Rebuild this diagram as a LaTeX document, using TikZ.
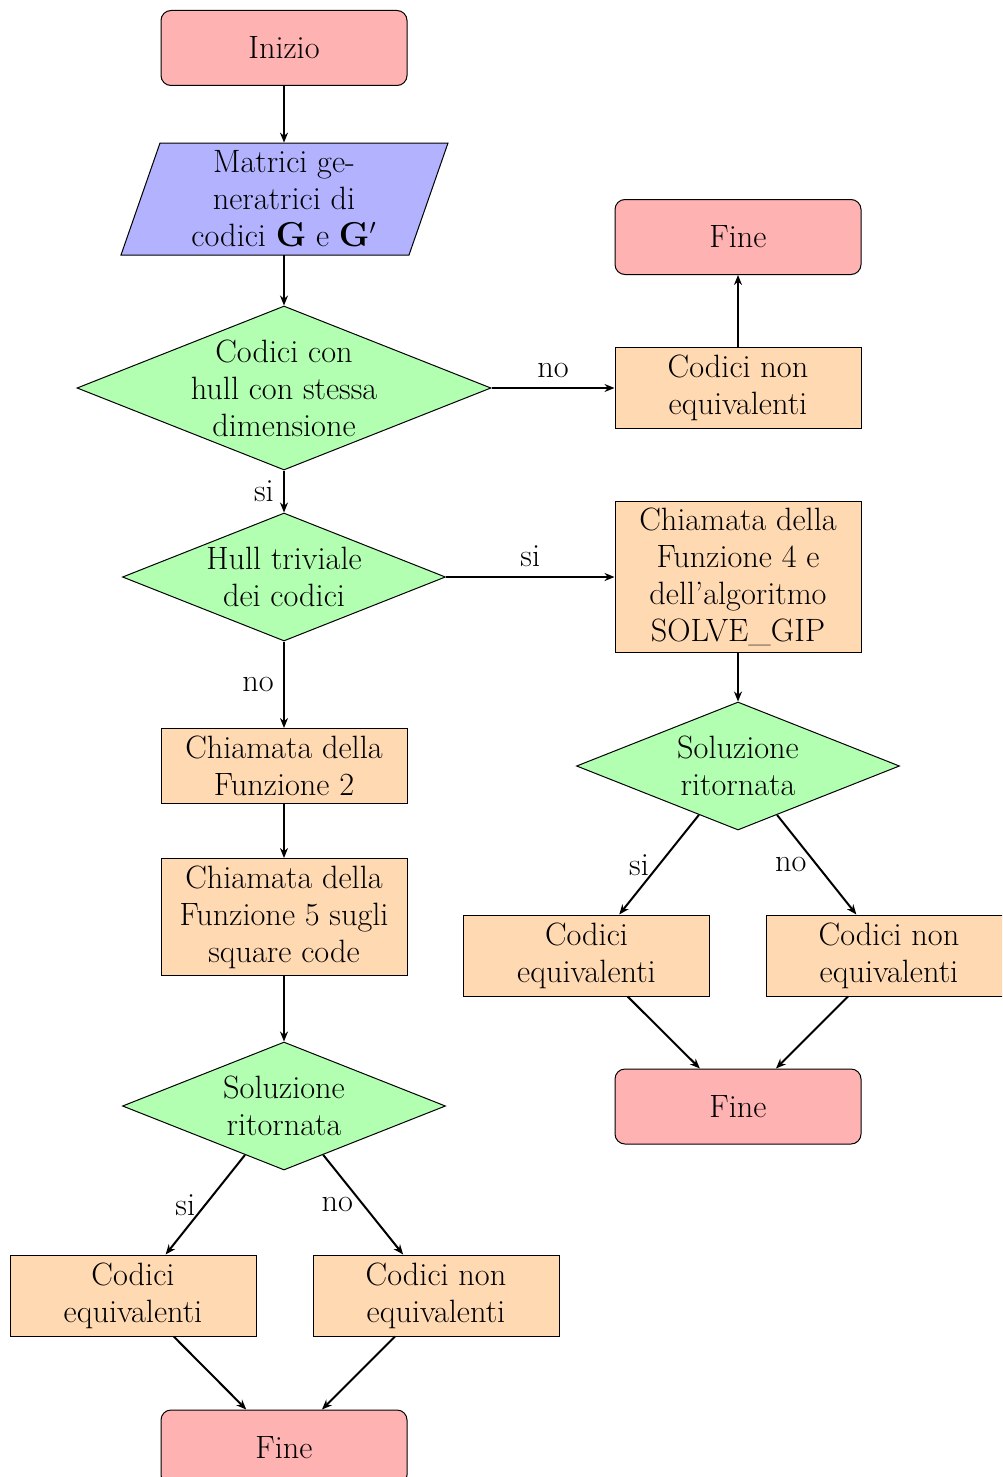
\documentclass[tikz,border=0pt]{standalone}
\usetikzlibrary{shapes.geometric,arrows.meta,calc}
\begin{document}
\begin{tikzpicture}[x=0.5pt,y=-0.5pt,
  every node/.style={font=\fontsize{16.15}{18.5}\selectfont},
  term/.style={rectangle, rounded corners=5pt, draw, fill=red!30, minimum width=123pt, minimum height=37.5pt, inner sep=0pt, line width=0.5pt, align=center},
  proc/.style={rectangle, draw, fill=orange!30, minimum width=123pt, inner sep=0pt, line width=0.5pt, align=center},
  dec/.style={diamond, draw, fill=green!30, inner sep=-40pt, aspect=1, align=center, line width=0.5pt},
  iobox/.style={fill=blue!30, draw, line width=0.5pt},
  arr/.style={-{Stealth[length=5pt,width=4pt]}, line width=1pt},
  lbl/.style={inner sep=4.6pt},
]
\path[use as bounding box] (0,0) rectangle (1002,1477);
\clip (0,0) rectangle (1002,1477);

% nodes
\node[term] (ini) at (284,48) {Inizio};
\path[iobox] (160,143) -- (448,143) -- (409,255) -- (121,255) -- cycle;
\node[rectangle, minimum width=144pt, minimum height=56pt, inner sep=0pt, align=center] (mat) at (284,199) {Matrici ge-\\neratrici di\\codici $\mathbf{G}$ e $\mathbf{G}'$};
\node[dec, minimum width=207pt, minimum height=82pt] (d1) at (284,388) {Codici con\\hull con stessa\\dimensione};
\node[term] (fine1) at (738,237) {Fine};
\node[proc, minimum height=40.5pt] (cne1) at (738,388) {Codici non\\equivalenti};
\node[dec, minimum width=161.5pt, minimum height=64pt] (d2) at (284,577) {Hull triviale\\dei codici};
\node[proc, minimum height=75.5pt] (f4) at (738,577) {Chiamata della\\Funzione 4 e\\dell'algoritmo\\SOLVE\_GIP};
\node[proc, minimum height=37.5pt] (f2) at (284,766) {Chiamata della\\Funzione 2};
\node[dec, minimum width=161.5pt, minimum height=64pt] (d3) at (738,766) {Soluzione\\ritornata};
\node[proc, minimum height=58.5pt] (f5) at (284,917) {Chiamata della\\Funzione 5 sugli\\square code};
\node[proc, minimum height=40.5pt] (ce2) at (586.5,955.5) {Codici\\equivalenti};
\node[proc, minimum height=40.5pt] (cne2) at (889,955.5) {Codici non\\equivalenti};
\node[term] (fine2) at (738,1106.5) {Fine};
\node[dec, minimum width=161.5pt, minimum height=64pt] (d4) at (284,1106) {Soluzione\\ritornata};
\node[proc, minimum height=40.5pt] (ce3) at (133,1295.5) {Codici\\equivalenti};
\node[proc, minimum height=40.5pt] (cne3) at (436,1295.5) {Codici non\\equivalenti};
\node[term] (fine3) at (284,1447.5) {Fine};

% connectors
\draw[arr] (ini) -- (mat);
\draw[arr] (mat) -- (d1);
\draw[arr] (d1) -- node[lbl, above]{no} (cne1);
\draw[arr] (cne1) -- (fine1);
\draw[arr] (d1) -- node[lbl, left]{si} (d2);
\draw[arr] (d2) -- node[lbl, above]{si} (f4);
\draw[arr] (d2) -- node[lbl, left]{no} (f2);
\draw[arr] (f4) -- (d3);
\draw[arr] (d3) -- node[lbl, left]{si} (ce2);
\draw[arr] (d3) -- node[lbl, left]{no} (cne2);
\draw[arr] (ce2) -- (fine2);
\draw[arr] (cne2) -- (fine2);
\draw[arr] (f2) -- (f5);
\draw[arr] (f5) -- (d4);
\draw[arr] (d4) -- node[lbl, left]{si} (ce3);
\draw[arr] (d4) -- node[lbl, left]{no} (cne3);
\draw[arr] (ce3) -- (fine3);
\draw[arr] (cne3) -- (fine3);
\end{tikzpicture}
\end{document}
